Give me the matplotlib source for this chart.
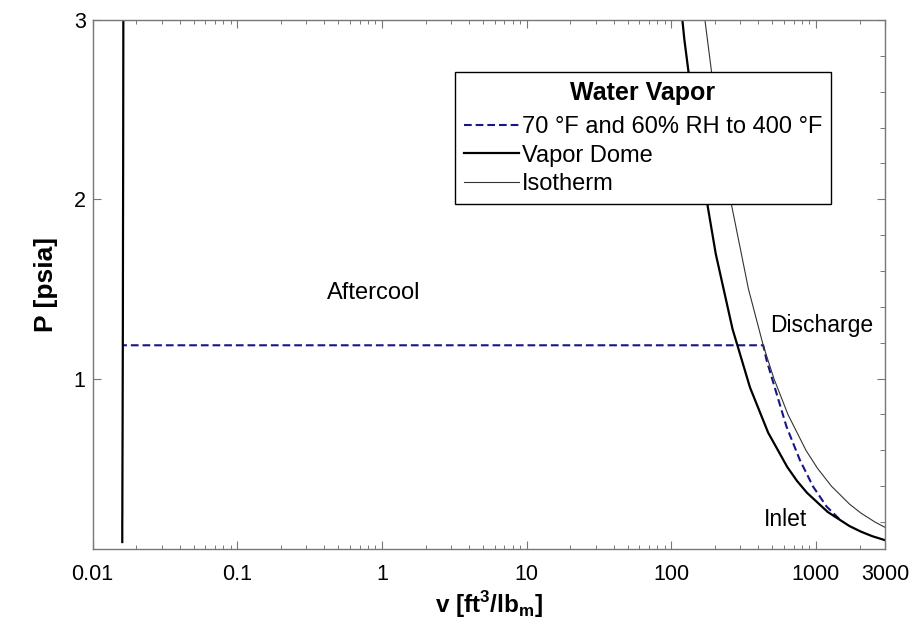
import matplotlib.pyplot as plt
from matplotlib.ticker import FixedLocator, FixedFormatter, LogLocator, MultipleLocator, NullFormatter

plt.rcParams['font.family'] = ['Liberation Sans', 'DejaVu Sans']
plt.rcParams['mathtext.fontset'] = 'custom'
plt.rcParams['mathtext.rm'] = 'Liberation Sans'
plt.rcParams['mathtext.bf'] = 'Liberation Sans:bold'

# saturation data for water, 32-150 F
sat_P = [0.0887, 0.1217, 0.1475, 0.1780, 0.2563, 0.3633, 0.4298, 0.5073,
         0.6988, 0.9503, 1.2763, 1.6945, 2.2253, 2.8922, 3.7202]
sat_vf = [0.01602, 0.01602, 0.01602, 0.01602, 0.01604, 0.01605, 0.01606, 0.01607,
          0.01610, 0.01613, 0.01617, 0.01620, 0.01625, 0.01629, 0.01634]
sat_vg = [3300, 2443, 2036, 1703, 1206, 867, 739, 633,
          467, 350, 265, 203, 157, 123, 97]

# 400 F isotherm
iso_P = [3.2, 3.0, 2.5, 2.0, 1.5, 1.186, 1.0, 0.8, 0.6, 0.5, 0.4, 0.3, 0.25, 0.2, 0.17]
iso_v = [160, 170.7, 204.8, 256, 341.3, 431.7, 512, 640, 853, 1024, 1280, 1707, 2048, 2560, 3012]

# compression from inlet (70 F, 60% RH) to discharge, then aftercool at constant P
proc_v = [1447, 1183, 955, 773, 625, 533, 455, 432, 0.0161]
proc_P = [0.218, 0.287, 0.398, 0.547, 0.733, 0.919, 1.104, 1.186, 1.186]

x_ticks = [0.01, 0.1, 1, 10, 100, 1000, 3000]
x_ticklabels = ['0.01', '0.1', '1', '10', '100', '1000', '3000']
y_ticks = [1, 2, 3]

fig = plt.figure(figsize=(9.12, 6.24), dpi=100)
ax = fig.add_axes([0.1016, 0.1202, 0.8688, 0.8478])

dome_v = sat_vf + sat_vg[::-1]
dome_P = sat_P + sat_P[::-1]

l1, = ax.plot(proc_v, proc_P, color='#16168a', lw=1.5, dashes=(3.7, 1.9),
              label='70 °F and 60% RH to 400 °F')
l2, = ax.plot(dome_v, dome_P, color='black', lw=1.6, label='Vapor Dome')
l3, = ax.plot(iso_v, iso_P, color='#333333', lw=0.8, label='Isotherm')

ax.set_xscale('log')
ax.set_xlim(0.01, 3000)
ax.set_ylim(0.05, 3)

ax.xaxis.set_major_locator(FixedLocator(x_ticks))
ax.xaxis.set_major_formatter(FixedFormatter(x_ticklabels))
ax.xaxis.set_minor_locator(LogLocator(base=10, subs=[2, 3, 4, 5, 6, 7, 8, 9], numticks=20))
ax.xaxis.set_minor_formatter(NullFormatter())
ax.yaxis.set_major_locator(FixedLocator(y_ticks))
ax.yaxis.set_minor_locator(MultipleLocator(0.2))

for s in ax.spines.values():
    s.set_color('#777777')
    s.set_linewidth(1.0)

ax.tick_params(which='both', direction='in', color='#777777', top=True, right=True)
ax.tick_params(which='major', length=5.8, width=0.8, labelsize=15.5)
ax.tick_params(which='minor', length=2.9, width=0.7)
ax.tick_params(axis='y', which='minor', left=False, right=True, length=3.6)
ax.tick_params(axis='x', pad=11)
ax.tick_params(axis='y', pad=5)

ax.set_xlabel(r'v [ft$^\mathbf{3}$/lb$_\mathbf{m}$]', fontsize=17.5, fontweight='bold', labelpad=3)
ax.set_ylabel('P [psia]', fontsize=19, fontweight='bold', labelpad=11)

ax.text(0.87, 1.477, 'Aftercool', fontsize=17, ha='center', va='center')
ax.text(480, 1.259, 'Discharge', fontsize=16.5, ha='left', va='baseline')
ax.text(435, 0.176, 'Inlet', fontsize=16.5, ha='left', va='baseline')

leg = ax.legend(handles=[l1, l2, l3], loc='upper right', bbox_to_anchor=(0.932, 0.901),
                borderaxespad=0, fontsize=17, title='Water Vapor',
                title_fontproperties={'weight': 'bold', 'size': 18},
                handlelength=2.35, handletextpad=0.1, labelspacing=0.28,
                borderpad=0.38, fancybox=False, framealpha=1, edgecolor='black')
leg.get_frame().set_linewidth(1.0)
# a little more room under the legend title
leg._legend_box.sep += 3

fig.savefig('out.png', dpi=100)
